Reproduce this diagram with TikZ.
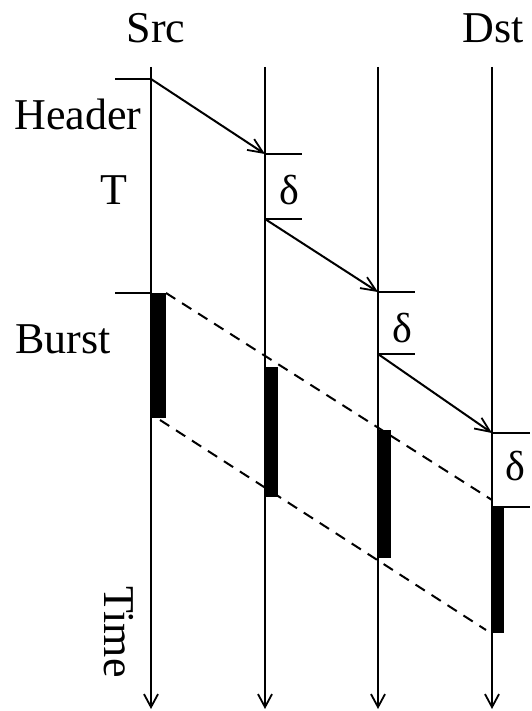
\documentclass[tikz,border=0pt]{standalone}
\usepackage{fontspec}
\setmainfont{Liberation Serif}
\usetikzlibrary{arrows.meta}
\begin{document}
\begin{tikzpicture}[x=1pt,y=-1pt,
  lbl/.style={font=\fontsize{44}{48}\selectfont,anchor=base,inner sep=0pt},
  dlbl/.style={font=\fontsize{42}{46}\selectfont,anchor=base,inner sep=0pt},
  timeline/.style={line width=2pt,-{Straight Barb[length=13pt,width=14pt,line width=1.8pt]}},
  msg/.style={line width=2pt,-{Straight Barb[length=15pt,width=13pt,line width=1.8pt]}},
  tick/.style={line width=2pt},
  burstbar/.style={fill=black,draw=none},
  burstedge/.style={line width=2pt,dash pattern=on 11pt off 8pt}]
\useasboundingbox (0,0) rectangle (531,711);
% timelines
\coordinate (s0) at (151,67);  \coordinate (s1) at (151,709);
\coordinate (a0) at (265,67);  \coordinate (a1) at (265,709);
\coordinate (b0) at (378,67);  \coordinate (b1) at (378,709);
\coordinate (d0) at (492,67);  \coordinate (d1) at (492,709);
\draw[timeline] (s0) -- (s1);
\draw[timeline] (a0) -- (a1);
\draw[timeline] (b0) -- (b1);
\draw[timeline] (d0) -- (d1);
% labels
\node[lbl] (src) at (156,43) {Src};
\node[lbl] (dst) at (493,43) {Dst};
\node[lbl] (hdr) at (78,130) {Header};
\node[lbl] (tt) at (114,205) {T};
\node[lbl] (bst) at (63,353) {Burst};
\node[lbl,rotate=-90,anchor=center] (time) at (119,632) {Time};
% header ticks and arrows
\coordinate (h0) at (151,79);
\coordinate (h1) at (265,154);
\coordinate (h2) at (265,219);
\coordinate (h3) at (378,292);
\coordinate (h4) at (378,354);
\coordinate (h5) at (492,433);
\coordinate (h6) at (492,507);
\draw[tick] (115,79) -- (h0);
\draw[msg] (h0) -- (h1);
\draw[tick] (h1) -- ++(37,0);
\draw[tick] (h2) -- ++(37,0);
\draw[msg] (h2) -- (h3);
\draw[tick] (h3) -- ++(37,0);
\draw[tick] (h4) -- ++(37,0);
\draw[msg] (h4) -- (h5);
\draw[tick] (h5) -- ++(38,0);
\draw[tick] (h6) -- ++(38,0);
\node[dlbl] (d1l) at (289,205) {δ};
\node[dlbl] (d2l) at (402,342) {δ};
\node[dlbl] (d3l) at (515,480) {δ};
% burst
\draw[tick] (115,293) -- (151,293);
\fill[burstbar] (151,293) rectangle (166,418);
\fill[burstbar] (265,367) rectangle (278,497);
\fill[burstbar] (378,430) rectangle (391,558);
\fill[burstbar] (492,507) rectangle (504,633);
\coordinate (t0) at (166,293);
\coordinate (t1) at (492,500);
\coordinate (u0) at (160,420);
\coordinate (u1) at (486,630);
\draw[burstedge] (t0) -- (t1);
\draw[burstedge] (u0) -- (u1);
\end{tikzpicture}
\end{document}
